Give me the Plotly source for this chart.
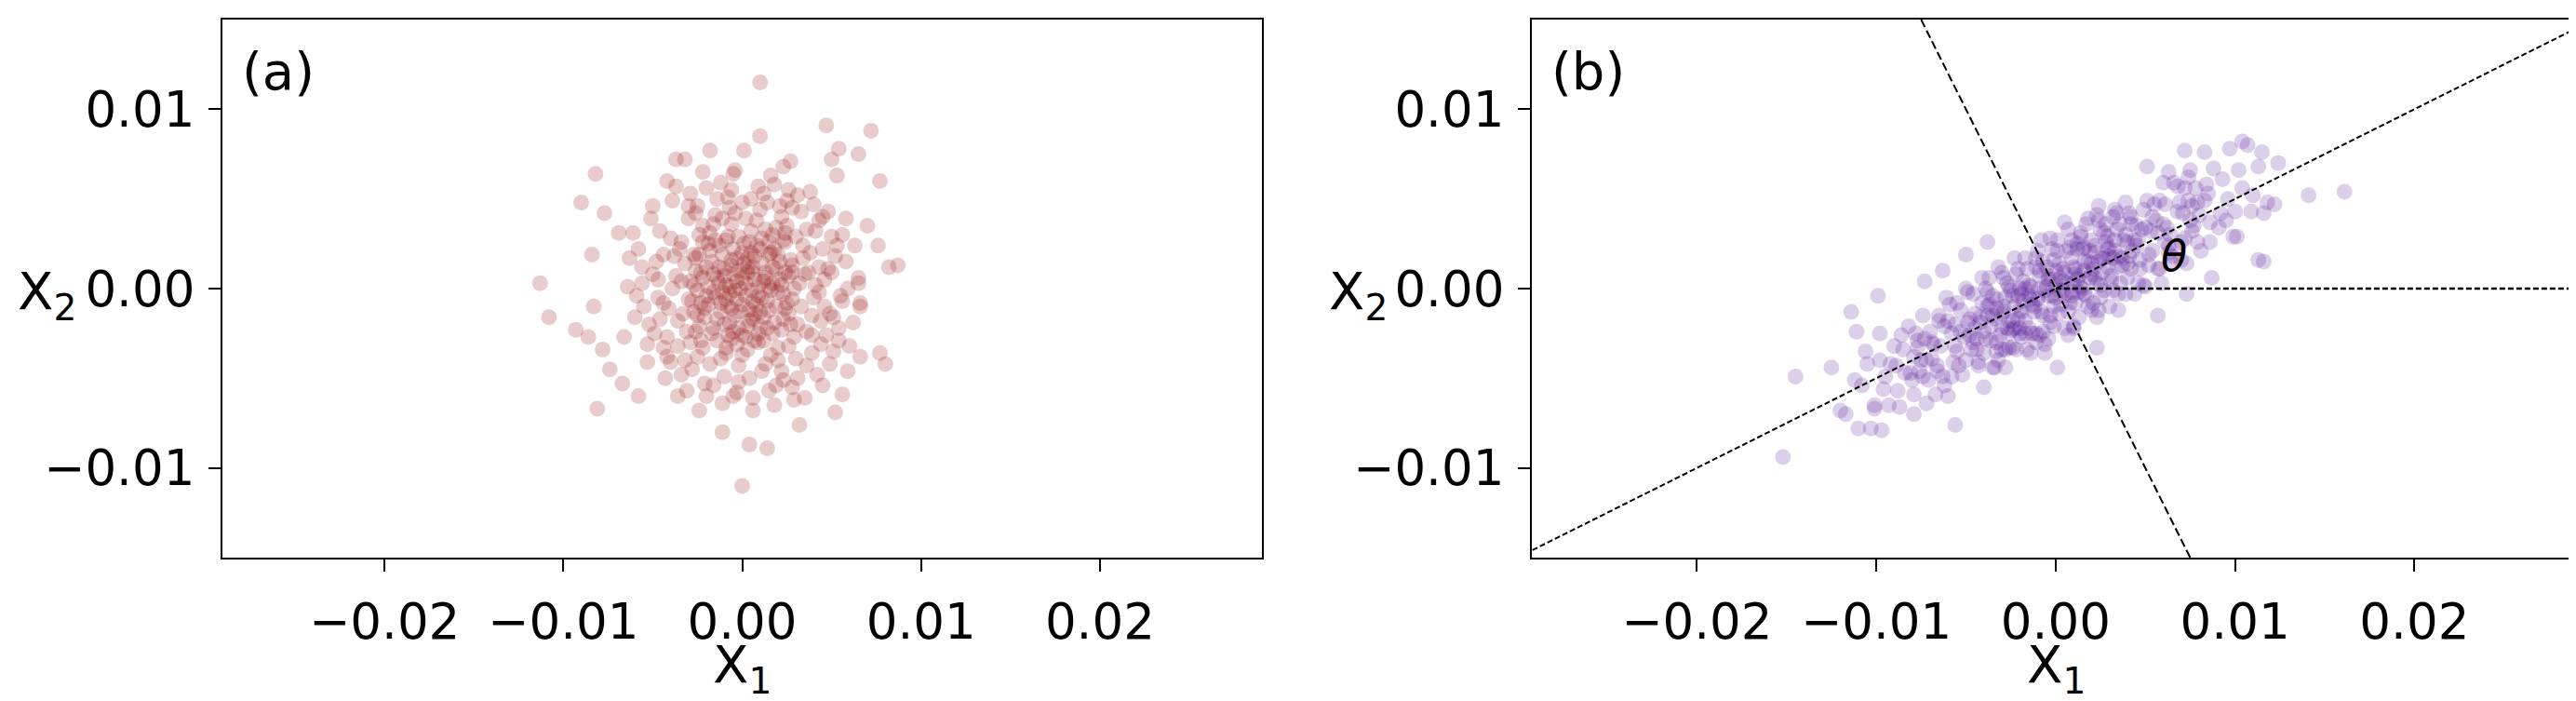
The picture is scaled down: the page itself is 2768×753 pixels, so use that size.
import plotly.graph_objects as go

# ---------------- Panel (a): (X1, X2) pairs ----------------
A_CENTRE = [(0.0002,0.0003),(-0.0005,0.0008),(0.0009,-0.0004),(-0.0011,-0.0002),(0.0004,-0.0012),(0.0013,0.0009),(-0.0008,-0.0010),(0.0001,0.0014),(-0.0014,0.0006),(0.0010,-0.0013),(-0.0003,-0.0006),(0.0007,0.0005),(-0.0001,0.0000),(0.0015,0.0001),(-0.0006,0.0013),(0.0005,-0.0001),(-0.0012,-0.0013),(0.0000,-0.0009),(0.0011,0.0014),(-0.0009,0.0002),(0.0003,0.0009),(-0.0004,-0.0015),(0.0014,-0.0007),(-0.0015,-0.0005),(0.0008,-0.0009),(-0.0002,0.0010),(0.0006,0.0012),(-0.0010,0.0011),(0.0012,0.0004),(-0.0007,-0.0003)]
A_CORE = [(0.0006,-0.0007),(-0.0003,0.0004),(0.0017,0.0012),(-0.0019,-0.0009),(0.0008,0.0024),(-0.0007,-0.0019),(0.0023,-0.0003),(-0.0022,0.0006),(0.0012,-0.0016),(-0.0011,0.0019),(0.0000,0.0006),(0.0026,0.0007),(-0.0009,-0.0006),(0.0015,0.0026),(-0.0025,-0.0015),(0.0004,-0.0018),(-0.0016,-0.0002),(0.0019,-0.0010),(-0.0005,0.0022),(0.0021,0.0015),(-0.0013,0.0003),(0.0009,0.0001),(-0.0002,-0.0022),(0.0011,-0.0005),(-0.0020,0.0012),(0.0003,0.0012),(-0.0008,-0.0026),(0.0024,-0.0011),(-0.0015,0.0027),(0.0007,-0.0029),(-0.0027,0.0002),(0.0013,0.0006),(-0.0004,-0.0001),(0.0005,0.0020),(-0.0017,-0.0025),(0.0028,-0.0006),(-0.0001,-0.0013),(0.0016,-0.0001),(-0.0023,-0.0008),(0.0002,-0.0004),(-0.0010,0.0007),(0.0018,0.0022),(-0.0006,0.0016),(0.0010,-0.0021),(-0.0024,0.0019),(0.0001,0.0025),(0.0022,0.0002),(-0.0012,-0.0008),(0.0006,0.0009),(-0.0007,0.0001)]
A_INNER = [(0.0021,0.0005),(-0.0023,0.0009),(0.0018,-0.0019),(-0.0016,-0.0022),(0.0004,0.0026),(-0.0006,-0.0028),(0.0027,0.0016),(-0.0028,-0.0007),(0.0010,0.0022),(-0.0013,0.0024),(0.0025,-0.0008),(0.0009,-0.0025),(-0.0021,-0.0016),(0.0016,0.0020),(-0.0026,0.0017),(0.0029,0.0000),(-0.0002,0.0029),(0.0003,-0.0021),(-0.0019,0.0001),(0.0022,-0.0023),(-0.0010,-0.0020),(0.0019,0.0011),(-0.0024,-0.0021),(0.0000,0.0020),(-0.0017,0.0015),(0.0024,0.0026),(0.0012,-0.0029),(-0.0029,0.0004),(0.0020,-0.0002),(-0.0009,0.0027),(0.0007,0.0018),(-0.0014,-0.0017),(0.0026,-0.0014),(-0.0022,0.0026),(0.0015,-0.0012),(-0.0005,-0.0024),(0.0028,0.0009),(-0.0020,-0.0004),(0.0002,-0.0027),(0.0017,0.0003),(-0.0018,0.0021),(-0.0027,-0.0013),(0.0011,0.0028),(0.0023,-0.0017),(-0.0003,0.0017),(0.0006,-0.0017),(-0.0016,0.0008),(0.0020,0.0019),(-0.0025,-0.0001),(0.0014,-0.0022)]
A_MIDDLE = [(0.0035,0.0008),(-0.0032,0.0014),(0.0031,-0.0020),(-0.0036,-0.0018),(0.0008,0.0038),(-0.0012,-0.0039),(0.0030,0.0029),(-0.0029,-0.0030),(0.0019,0.0034),(-0.0022,0.0035),(0.0040,-0.0005),(0.0016,-0.0037),(-0.0039,0.0000),(0.0038,0.0020),(-0.0015,0.0041),(0.0003,-0.0034),(0.0043,0.0012),(-0.0041,-0.0011),(0.0026,-0.0032),(-0.0006,0.0036),(0.0033,-0.0010),(-0.0034,0.0026),(0.0022,0.0040),(-0.0025,-0.0038),(0.0044,-0.0018),(-0.0002,-0.0043),(0.0010,0.0044),(-0.0044,0.0019),(0.0036,0.0033),(-0.0031,-0.0024),(0.0005,0.0032),(0.0029,-0.0027),(-0.0018,0.0031),(-0.0037,0.0007),(0.0041,0.0002),(0.0013,-0.0042),(-0.0009,-0.0033),(0.0034,0.0017),(-0.0026,0.0010),(0.0024,0.0031),(-0.0030,-0.0006),(0.0000,-0.0037),(0.0039,-0.0026),(-0.0011,0.0039),(-0.0042,-0.0027),(0.0017,0.0030),(0.0020,-0.0040),(-0.0023,-0.0029),(0.0032,0.0003),(-0.0004,0.0042)]
A_OUTER = [(0.0050,0.0009),(-0.0048,0.0015),(0.0047,-0.0026),(-0.0052,-0.0020),(0.0012,0.0053),(-0.0016,-0.0054),(0.0043,0.0038),(-0.0040,-0.0041),(0.0025,0.0049),(-0.0030,0.0046),(0.0055,-0.0004),(0.0023,-0.0051),(-0.0056,0.0003),(0.0053,0.0024),(-0.0020,0.0056),(0.0004,-0.0050),(0.0058,0.0015),(-0.0055,-0.0010),(0.0036,-0.0043),(-0.0008,0.0051),(0.0049,-0.0014),(-0.0046,0.0032),(0.0031,0.0052),(-0.0034,-0.0048),(0.0054,-0.0029),(-0.0003,-0.0058),(0.0009,0.0057),(-0.0058,0.0022),(0.0048,0.0043),(-0.0044,-0.0033),(0.0000,0.0048),(0.0039,-0.0036),(-0.0026,0.0042),(-0.0050,0.0008),(0.0059,0.0000),(0.0015,-0.0057),(-0.0010,-0.0049),(0.0045,0.0022),(-0.0038,0.0018),(0.0028,0.0045),(-0.0047,-0.0005),(-0.0021,-0.0053),(0.0051,-0.0035),(-0.0014,0.0050),(-0.0053,-0.0031),(0.0021,0.0046),(0.0028,-0.0055),(-0.0032,-0.0040),(0.0046,0.0005),(-0.0006,0.0055),(0.0056,0.0030),(0.0042,-0.0048)]
A_FILL = [(0.0025,0.0035),(-0.0035,0.0022),(0.0046,-0.0010),(-0.0028,-0.0045),(0.0014,0.0048),(-0.0049,-0.0025),(0.0052,0.0018),(-0.0012,0.0059),(0.0031,-0.0050),(-0.0056,0.0012),(0.0006,-0.0061),(0.0062,-0.0019),(-0.0039,0.0049),(0.0040,0.0047),(-0.0060,-0.0016),(0.0020,-0.0033),(-0.0043,-0.0050),(0.0058,0.0039),(-0.0009,-0.0036),(0.0037,0.0009),(-0.0024,0.0030),(0.0018,0.0058),(-0.0051,0.0039),(0.0065,0.0006),(-0.0031,-0.0057),(0.0002,0.0039),(0.0044,-0.0031),(-0.0064,0.0001),(0.0027,-0.0020),(-0.0018,-0.0042),(0.0050,0.0029),(-0.0040,0.0028),(0.0033,0.0043),(-0.0022,-0.0033),(0.0060,-0.0032),(-0.0005,0.0064),(0.0011,-0.0046),(-0.0066,-0.0027),(0.0049,-0.0042),(-0.0029,0.0053),(0.0036,-0.0024),(-0.0036,-0.0032),(0.0023,0.0027),(-0.0046,-0.0017),(0.0056,-0.0007),(-0.0016,0.0036),(0.0009,-0.0030),(-0.0053,-0.0041),(0.0041,0.0032),(-0.0020,-0.0060),(0.0063,0.0024),(-0.0061,0.0031),(0.0016,0.0063),(-0.0002,-0.0052),(0.0030,-0.0039),(-0.0047,0.0005),(0.0026,0.0055),(-0.0033,-0.0014),(0.0054,-0.0022),(-0.0007,0.0045),(0.0019,-0.0054),(-0.0059,-0.0004),(0.0048,0.0011),(-0.0025,0.0046),(0.0034,0.0024),(-0.0042,-0.0038),(0.0005,0.0050),(-0.0014,-0.0029),(0.0059,-0.0046),(-0.0063,0.0017),(0.0029,-0.0062),(-0.0037,0.0057),(0.0043,-0.0002),(-0.0011,-0.0064),(0.0066,-0.0008),(-0.0050,0.0046),(0.0000,-0.0026),(0.0038,0.0054),(-0.0027,0.0019),(0.0013,0.0033),(-0.0030,0.0039),(0.0045,0.0040),(-0.0044,-0.0008),(0.0022,-0.0046),(-0.0019,0.0025),(0.0051,-0.0016),(-0.0003,-0.0031),(0.0028,0.0013),(-0.0021,-0.0011),(0.0039,-0.0015),(-0.0034,0.0004),(0.0017,-0.0025),(-0.0008,0.0029),(0.0024,0.0009),(-0.0026,-0.0024),(0.0007,-0.0014),(-0.0013,0.0012),(0.0015,0.0019),(-0.0006,-0.0011),(0.0003,0.0017)]
A_SPARSE = [(0.0010,0.0115),(0.0047,0.0091),(0.0072,0.0088),(0.0010,0.0085),(0.0054,0.0078),(0.0065,0.0075),(-0.0018,0.0077),(0.0001,0.0077),(-0.0037,0.0072),(-0.0032,0.0072),(0.0050,0.0072),(0.0027,0.0071),(-0.0082,0.0064),(0.0053,0.0063),(0.0077,0.0060),(-0.0042,0.0060),(-0.0022,0.0065),(-0.0004,0.0066),(0.0023,0.0068),(-0.0090,0.0048),(-0.0077,0.0042),(0.0070,0.0035),(0.0076,0.0024),(0.0087,0.0013),(0.0082,0.0012),(-0.0113,0.0003),(-0.0108,-0.0016),(-0.0084,0.0019),(-0.0069,0.0031),(-0.0083,-0.0010),(-0.0093,-0.0023),(-0.0086,-0.0027),(-0.0078,-0.0034),(-0.0067,-0.0053),(-0.0058,-0.0060),(-0.0081,-0.0067),(-0.0074,-0.0045),(0.0066,-0.0038),(0.0077,-0.0036),(0.0080,-0.0042),(0.0066,-0.0010),(0.0056,-0.0059),(0.0052,-0.0069),(0.0035,-0.0061),(0.0032,-0.0076),(-0.0011,-0.0080),(0.0004,-0.0087),(0.0014,-0.0089),(0.0000,-0.0110),(-0.0024,-0.0068),(0.0006,-0.0068),(0.0018,-0.0065),(-0.0005,-0.0060),(-0.0036,-0.0060),(0.0045,-0.0054),(0.0065,0.0003)]

# ---------------- Panel (b): correlated cloud, (X1, X2) pairs ----------------
B_CENTRE = [(0.0003,0.0006),(-0.0007,-0.0015),(0.0012,0.0022),(-0.0015,0.0002),(0.0009,-0.0004),(-0.0002,0.0022),(0.0018,-0.0010),(-0.0019,-0.0013),(0.0005,-0.0022),(-0.0011,0.0012),(0.0016,0.0010),(-0.0004,-0.0004),(0.0000,0.0010),(0.0014,0.0001),(-0.0013,-0.0025),(0.0007,0.0033),(-0.0009,0.0000),(0.0019,0.0021),(-0.0017,0.0017),(0.0002,-0.0014),(0.0010,0.0012),(-0.0006,-0.0031),(-0.0018,0.0004),(0.0013,-0.0016),(-0.0001,-0.0010),(0.0008,0.0023),(-0.0012,-0.0013),(0.0017,0.0036),(-0.0005,0.0012),(0.0004,-0.0001),(-0.0020,-0.0022),(0.0011,-0.0008),(-0.0008,0.0027),(0.0006,0.0003),(-0.0014,-0.0006),(0.0015,0.0022),(-0.0003,-0.0019),(0.0001,0.0021),(-0.0016,-0.0034),(0.0020,0.0014),(-0.0010,-0.0006),(0.0009,0.0017),(-0.0002,0.0005),(0.0012,0.0005),(-0.0017,-0.0018),(0.0005,0.0037),(-0.0006,-0.0036),(0.0016,-0.0003),(-0.0011,0.0017),(0.0003,-0.0009),(-0.0015,-0.0022),(0.0018,0.0015),(-0.0004,0.0007),(0.0007,-0.0013),(-0.0009,-0.0026),(0.0014,0.0031),(0.0000,-0.0005),(-0.0019,-0.0003),(0.0010,-0.0022),(-0.0007,0.0015)]
B_CORE = [(0.0002,-0.0001),(-0.0005,0.0001),(0.0011,0.0011),(-0.0012,-0.0010),(0.0023,0.0003),(-0.0021,-0.0004),(0.0008,-0.0008),(-0.0009,0.0007),(0.0032,0.0017),(-0.0030,-0.0022),(0.0016,0.0023),(-0.0017,-0.0025),(0.0028,0.0026),(-0.0026,0.0001),(0.0004,0.0011),(-0.0003,-0.0015),(0.0041,0.0018),(-0.0042,-0.0016),(0.0019,0.0006),(-0.0018,-0.0007),(0.0025,0.0033),(-0.0024,-0.0033),(0.0006,0.0021),(-0.0007,-0.0024),(0.0036,0.0003),(-0.0037,-0.0009),(0.0013,0.0007),(-0.0014,0.0001),(0.0030,0.0023),(-0.0033,-0.0035),(0.0000,0.0002),(-0.0001,0.0016),(0.0020,0.0027),(-0.0020,-0.0012),(0.0045,0.0024),(-0.0044,-0.0028),(0.0010,0.0003),(-0.0010,-0.0005),(0.0026,0.0017),(-0.0028,-0.0005),(0.0005,-0.0004),(-0.0004,0.0005),(0.0015,0.0000),(-0.0016,0.0011),(0.0034,0.0012),(-0.0035,-0.0015),(0.0009,0.0027),(-0.0011,-0.0030),(0.0021,0.0011),(-0.0023,-0.0022)]
B_INNER = [(0.0024,0.0015),(-0.0026,-0.0018),(0.0031,0.0004),(-0.0033,-0.0006),(0.0042,0.0036),(-0.0040,-0.0036),(0.0028,0.0036),(-0.0022,-0.0034),(0.0036,0.0018),(-0.0038,-0.0015),(0.0047,0.0016),(-0.0045,-0.0014),(0.0021,-0.0008),(-0.0029,0.0006),(0.0039,0.0048),(-0.0035,-0.0044),(0.0026,0.0009),(-0.0024,-0.0004),(0.0044,0.0027),(-0.0048,-0.0026),(0.0033,0.0027),(-0.0031,-0.0026),(0.0022,0.0024),(-0.0027,0.0003),(0.0049,0.0044),(-0.0043,-0.0043),(0.0030,-0.0010),(-0.0037,0.0006),(0.0025,0.0002),(-0.0021,-0.0017),(0.0040,0.0006),(-0.0041,-0.0008),(0.0034,0.0042),(-0.0030,-0.0034),(0.0029,0.0022),(-0.0023,-0.0010),(0.0046,0.0003),(-0.0046,-0.0003),(0.0037,0.0013),(-0.0034,-0.0017),(0.0023,0.0041),(-0.0028,-0.0044),(0.0043,0.0021),(-0.0039,-0.0028),(0.0032,-0.0001),(-0.0025,-0.0001),(0.0027,0.0031),(-0.0044,-0.0034),(0.0048,0.0033),(-0.0032,0.0012),(0.0035,-0.0012),(-0.0020,-0.0025),(0.0020,0.0008),(-0.0049,-0.0019),(0.0041,0.0042),(-0.0036,-0.0021),(0.0038,0.0027),(-0.0026,-0.0033),(0.0024,-0.0012),(-0.0033,-0.0030),(0.0045,0.0035),(-0.0042,-0.0019),(0.0030,0.0018),(-0.0029,-0.0010),(0.0022,0.0020),(-0.0047,-0.0034),(0.0036,0.0036),(-0.0022,0.0008),(0.0042,0.0011),(-0.0038,-0.0002),(0.0027,-0.0001),(-0.0030,-0.0014),(0.0033,0.0021),(-0.0024,-0.0023),(0.0040,0.0026),(-0.0040,-0.0024),(0.0029,0.0012),(-0.0035,-0.0004),(0.0039,-0.0003),(-0.0027,-0.0022)]
B_MIDDLE = [(0.0053,0.0032),(-0.0055,-0.0035),(0.0061,0.0047),(-0.0062,-0.0021),(0.0070,0.0026),(-0.0071,-0.0051),(0.0058,0.0011),(-0.0059,-0.0009),(0.0066,0.0059),(-0.0067,-0.0059),(0.0076,0.0046),(-0.0077,-0.0033),(0.0051,0.0049),(-0.0052,-0.0048),(0.0064,0.0030),(-0.0064,-0.0032),(0.0073,0.0014),(-0.0074,-0.0015),(0.0056,0.0038),(-0.0057,-0.0041),(0.0069,0.0048),(-0.0069,-0.0039),(0.0079,0.0026),(-0.0079,-0.0059),(0.0054,0.0021),(-0.0053,-0.0012),(0.0062,0.0034),(-0.0060,-0.0060),(0.0072,0.0056),(-0.0073,-0.0028),(0.0059,0.0003),(-0.0058,-0.0025),(0.0067,0.0023),(-0.0065,-0.0015),(0.0075,0.0038),(-0.0076,-0.0046),(0.0052,0.0013),(-0.0051,-0.0027),(0.0060,0.0059),(-0.0063,-0.0049),(0.0078,0.0056),(-0.0078,-0.0025),(0.0057,0.0031),(-0.0056,-0.0020),(0.0065,0.0014),(-0.0068,-0.0031),(0.0071,0.0042),(-0.0072,-0.0064),(0.0055,0.0047),(-0.0054,-0.0043),(0.0063,0.0024),(-0.0061,-0.0005),(0.0077,0.0035),(-0.0075,-0.0040),(0.0050,0.0001),(-0.0050,0.0000),(0.0068,0.0043),(-0.0066,-0.0043),(0.0074,0.0062),(-0.0070,-0.0024)]
B_FILL = [(-0.0065,-0.0018),(0.0065,0.0018),(-0.0032,-0.0040),(0.0032,0.0040),(-0.0086,-0.0026),(0.0086,0.0026),(-0.0010,0.0021),(0.0010,-0.0021),(-0.0049,-0.0002),(0.0049,0.0002),(-0.0074,-0.0049),(0.0074,0.0049),(-0.0023,0.0017),(0.0023,-0.0016),(-0.0058,-0.0049),(0.0058,0.0049),(-0.0092,-0.0042),(0.0092,0.0042),(-0.0003,0.0028),(0.0007,-0.0026),(-0.0039,0.0000),(0.0044,-0.0003),(-0.0069,-0.0030),(0.0061,0.0026),(-0.0026,-0.0025),(0.0029,0.0029),(-0.0014,-0.0036),(0.0018,0.0039),(-0.0046,-0.0030),(0.0050,0.0034),(-0.0081,-0.0047),(0.0079,0.0048),(-0.0053,-0.0024),(0.0037,0.0017),(-0.0008,-0.0013),(0.0005,0.0009),(-0.0020,0.0000),(0.0022,0.0006),(-0.0036,-0.0029),(0.0034,0.0033),(-0.0077,-0.0029),(0.0070,0.0016),(-0.0019,-0.0027),(0.0012,0.0025),(-0.0041,0.0006),(0.0047,0.0011),(-0.0062,-0.0054),(0.0068,0.0057),(-0.0001,-0.0021),(0.0002,0.0014),(-0.0029,-0.0013),(0.0025,-0.0005),(-0.0050,-0.0040),(0.0054,0.0040),(-0.0098,-0.0040),(0.0095,0.0038),(-0.0033,-0.0011),(0.0031,0.0007),(-0.0015,-0.0004),(0.0016,0.0015),(-0.0060,-0.0018),(0.0063,0.0020),(-0.0043,-0.0041),(0.0042,0.0040),(-0.0006,-0.0001),(0.0009,-0.0002),(-0.0024,-0.0018),(0.0027,0.0017),(-0.0072,-0.0040),(0.0076,0.0032),(-0.0038,-0.0010),(0.0039,0.0030),(-0.0011,-0.0025),(0.0014,0.0029),(-0.0055,-0.0008),(0.0057,0.0011),(-0.0088,-0.0057),(0.0084,0.0058),(-0.0004,-0.0028),(0.0001,0.0027),(-0.0021,0.0011),(0.0020,-0.0012),(-0.0048,-0.0017),(0.0046,0.0027),(-0.0066,-0.0046),(0.0060,0.0036),(-0.0017,0.0000),(0.0017,-0.0004),(-0.0030,0.0009),(0.0035,-0.0003),(-0.0105,-0.0042),(0.0100,0.0043),(-0.0009,0.0010),(0.0011,0.0008),(-0.0028,-0.0034),(0.0024,0.0038),(-0.0045,-0.0022),(0.0040,0.0014),(-0.0079,-0.0038),(0.0072,0.0028),(-0.0002,-0.0004),(0.0004,0.0004),(-0.0013,-0.0009),(0.0013,-0.0002),(-0.0056,-0.0032),(0.0052,0.0019),(-0.0034,-0.0044),(0.0033,0.0044)]
B_OUTER = [(0.0083,0.0049),(-0.0084,-0.0047),(0.0091,0.0034),(-0.0090,-0.0032),(0.0102,0.0066),(-0.0101,-0.0065),(0.0088,0.0067),(-0.0087,-0.0066),(0.0110,0.0052),(-0.0112,-0.0051),(0.0096,0.0050),(-0.0095,-0.0049),(0.0081,0.0021),(-0.0082,-0.0021),(0.0107,0.0080),(-0.0106,-0.0035),(0.0093,0.0061),(-0.0093,-0.0065),(0.0116,0.0042),(-0.0117,-0.0070),(0.0086,0.0037),(-0.0089,-0.0043),(0.0099,0.0029),(-0.0098,-0.0025),(0.0104,0.0056),(-0.0103,-0.0078),(0.0085,0.0053),(-0.0085,-0.0034),(0.0097,0.0078),(-0.0096,-0.0056),(0.0113,0.0068),(-0.0110,-0.0078),(0.0080,0.0041),(-0.0080,-0.0051),(0.0109,0.0043),(-0.0108,-0.0054)]
B_SPARSE = [(-0.0152,-0.0094),(-0.0145,-0.0049),(-0.0125,-0.0044),(-0.0120,-0.0068),(-0.0097,-0.0079),(-0.0056,-0.0076),(-0.0079,-0.0070),(-0.0101,-0.0067),(-0.0114,-0.0013),(-0.0099,-0.0004),(-0.0111,-0.0024),(-0.0040,-0.0055),(0.0001,-0.0044),(0.0023,-0.0033),(0.0057,-0.0015),(0.0073,-0.0003),(0.0087,0.0006),(0.0113,0.0016),(0.0101,0.0029),(0.0104,0.0082),(0.0115,0.0076),(0.0083,0.0076),(0.0072,0.0077),(0.0051,0.0068),(0.0063,0.0065),(0.0075,0.0066),(0.0118,0.0048),(0.0024,0.0046),(-0.0038,0.0026),(-0.0050,0.0019),(-0.0063,0.0010),(-0.0073,0.0004),(0.0141,0.0052),(0.0161,0.0054),(0.0124,0.0070),(0.0116,0.0015),(0.0122,0.0047)]

# Principal-axis guide lines of panel (b) (slope 1/2 and its perpendicular), and the X1 reference
PC1_X = [-0.030, 0.030]
PC1_Y = [-0.015, 0.015]
PC2_X = [-0.0078, 0.0078]
PC2_Y = [0.0156, -0.0156]
REF_X = [0.0, 0.030]
REF_Y = [0.0, 0.0]
THETA_POS = (0.0066, 0.0018)

X_TICKS = [-0.02, -0.01, 0.0, 0.01, 0.02]
Y_TICKS = [-0.01, 0.0, 0.01]

pts_a = A_CENTRE + A_CORE + A_INNER + A_MIDDLE + A_OUTER + A_FILL + A_SPARSE
pts_b = B_CENTRE + B_CORE + B_INNER + B_MIDDLE + B_FILL + B_OUTER + B_SPARSE

W, H = 2768, 753
FONT = "DejaVu Sans"

fig = go.Figure()
fig.add_trace(go.Scatter(x=[p[0] for p in pts_a], y=[p[1] for p in pts_a], mode="markers",
                         marker=dict(size=17, color="#8b0000", opacity=0.2, line=dict(width=0)),
                         xaxis="x", yaxis="y", hoverinfo="skip"))
fig.add_trace(go.Scatter(x=[p[0] for p in pts_b], y=[p[1] for p in pts_b], mode="markers",
                         marker=dict(size=17, color="#4e0f96", opacity=0.2, line=dict(width=0)),
                         xaxis="x2", yaxis="y2", hoverinfo="skip"))
fig.add_trace(go.Scatter(x=PC1_X, y=PC1_Y, mode="lines", line=dict(color="black", width=2, dash="6px,3px"),
                         xaxis="x2", yaxis="y2", hoverinfo="skip"))
fig.add_trace(go.Scatter(x=PC2_X, y=PC2_Y, mode="lines", line=dict(color="black", width=2, dash="9px,4px"),
                         xaxis="x2", yaxis="y2", hoverinfo="skip"))
fig.add_trace(go.Scatter(x=REF_X, y=REF_Y, mode="lines", line=dict(color="black", width=2.5, dash="6px,3px"),
                         xaxis="x2", yaxis="y2", hoverinfo="skip"))

axis_common = dict(showline=True, linecolor="black", linewidth=2, mirror=True,
                   ticks="outside", ticklen=13, tickwidth=2, tickcolor="black",
                   showgrid=False, zeroline=False, tickformat=".2f",
                   tickfont=dict(family=FONT, size=53, color="black"))

ydom = [1 - 591 / H, 1 - 13 / H]
fig.update_layout(
    width=W, height=H, margin=dict(l=0, r=0, t=0, b=0),
    paper_bgcolor="white", plot_bgcolor="white", showlegend=False,
    xaxis=dict(domain=[231 / W, 1348 / W], range=[-0.02906, 0.02906], anchor="y",
               tickvals=X_TICKS, ticklabelstandoff=8, **axis_common),
    yaxis=dict(domain=ydom, range=[-0.015, 0.015], anchor="x",
               tickvals=Y_TICKS, ticklabelstandoff=4, **axis_common),
    xaxis2=dict(domain=[1638 / W, 2756 / W], range=[-0.0292, 0.0288], anchor="y2",
                tickvals=X_TICKS, ticklabelstandoff=8, **axis_common),
    yaxis2=dict(domain=ydom, range=[-0.015, 0.015], anchor="x2",
                tickvals=Y_TICKS, ticklabelstandoff=4, **axis_common),
)

lab = dict(family=FONT, size=56, color="black")
ann = [
    dict(text="(a)", x=250 / W, y=1 - 68 / H, xref="paper", yref="paper", xanchor="left", yanchor="middle", showarrow=False, font=lab),
    dict(text="(b)", x=1657 / W, y=1 - 68 / H, xref="paper", yref="paper", xanchor="left", yanchor="middle", showarrow=False, font=lab),
    dict(text="X<sub>1</sub>", x=789.5 / W, y=1 - 709 / H, xref="paper", yref="paper", xanchor="center", yanchor="middle", showarrow=False, font=lab),
    dict(text="X<sub>1</sub>", x=2201 / W, y=1 - 709 / H, xref="paper", yref="paper", xanchor="center", yanchor="middle", showarrow=False, font=lab),
    dict(text="X<sub>2</sub>", x=9 / W, y=1 - 308 / H, xref="paper", yref="paper", xanchor="left", yanchor="middle", showarrow=False, font=lab),
    dict(text="X<sub>2</sub>", x=1418 / W, y=1 - 308 / H, xref="paper", yref="paper", xanchor="left", yanchor="middle", showarrow=False, font=lab),
    dict(text="<i>θ</i>", x=THETA_POS[0], y=THETA_POS[1], xref="x2", yref="y2", xanchor="center", yanchor="middle", showarrow=False,
         font=dict(family=FONT, size=46, color="black")),
]
fig.update_layout(annotations=ann)

fig.write_html("out.html")
